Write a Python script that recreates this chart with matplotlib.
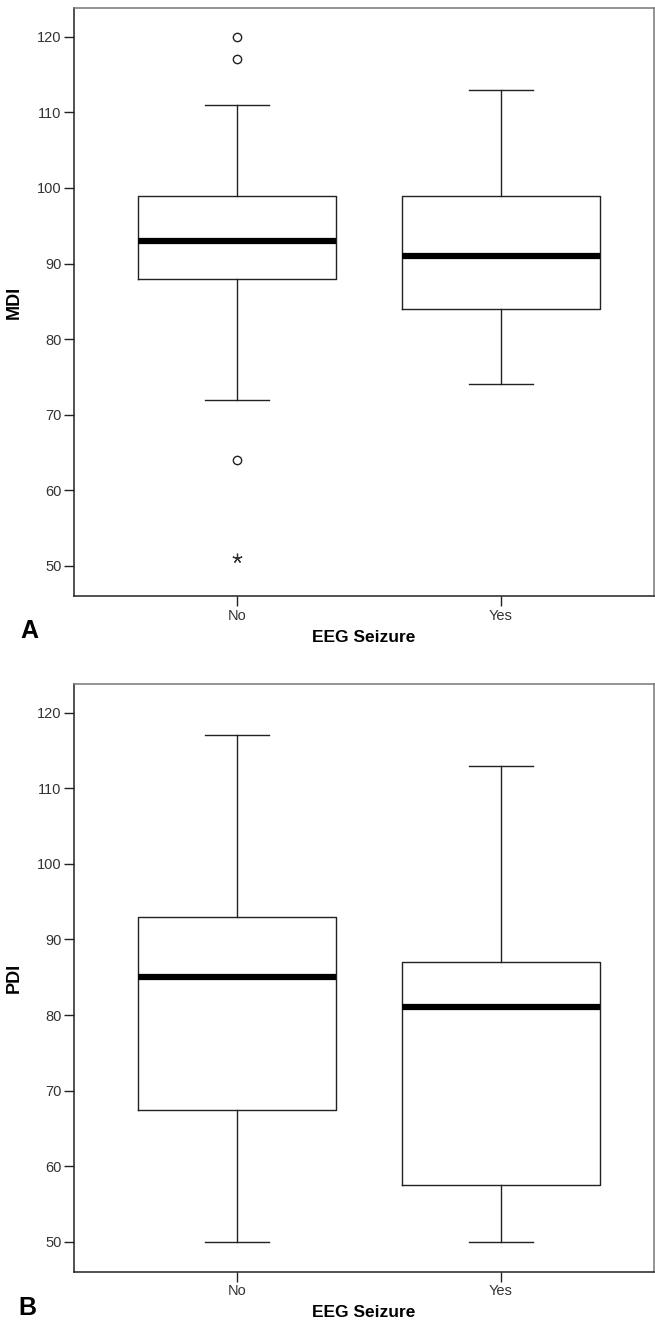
import matplotlib.pyplot as plt

plt.rcParams['font.family'] = ['Liberation Sans', 'DejaVu Sans']

groups = ['No', 'Yes']

# panel A: MDI
mdi_low = [72, 74]
mdi_q1 = [88, 84]
mdi_med = [93, 91]
mdi_q3 = [99, 99]
mdi_high = [111, 113]
mdi_outliers = [[120, 117, 64], []]
mdi_extremes = [[51], []]

# panel B: PDI
pdi_low = [50, 50]
pdi_q1 = [67.5, 57.5]
pdi_med = [85, 81]
pdi_q3 = [93, 87]
pdi_high = [117, 113]
pdi_outliers = [[], []]
pdi_extremes = [[], []]

yticks = [50, 60, 70, 80, 90, 100, 110, 120]


def panel(ax, low, q1, med, q3, high, outl, extr, ylabel):
    stats = []
    for i in range(len(groups)):
        stats.append(dict(whislo=low[i], q1=q1[i], med=med[i], q3=q3[i],
                          whishi=high[i], fliers=outl[i], label=groups[i]))
    pos = list(range(1, len(groups) + 1))
    ax.bxp(stats, positions=pos, widths=0.75, showfliers=True,
           boxprops=dict(color='#222222', linewidth=1.0),
           whiskerprops=dict(color='#222222', linewidth=1.0),
           capprops=dict(color='#222222', linewidth=1.0),
           capwidths=0.245,
           medianprops=dict(color='black', linewidth=4.5, solid_capstyle='butt'),
           flierprops=dict(marker='o', markersize=6, markerfacecolor='white',
                           markeredgecolor='#222222', markeredgewidth=1.0))
    # extreme values drawn as asterisks
    for p, vals in zip(pos, extr):
        for v in vals:
            ax.plot(p, v, marker=(5, 2, 0), markersize=7, color='#333333',
                    markeredgewidth=0.9)
    ax.set_xlim(0.383, 2.58)
    ax.set_ylim(46.0, 123.8)
    ax.set_yticks(yticks)
    ax.set_xticks(pos)
    ax.set_xticklabels(groups)
    ax.tick_params(axis='both', direction='out', length=7, width=1.0,
                   color='#222222', labelsize=10.5, labelcolor='#333333', pad=2)
    for s in ['left', 'bottom']:
        ax.spines[s].set_color('#222222')
        ax.spines[s].set_linewidth(1.1)
    for s in ['top', 'right']:
        ax.spines[s].set_color('#777777')
        ax.spines[s].set_linewidth(1.1)
    ax.set_ylabel(ylabel, fontsize=13, fontweight='bold', labelpad=10)
    ax.set_xlabel('EEG Seizure', fontsize=12.5, fontweight='bold', labelpad=5)
    return ax


fig = plt.figure(figsize=(6.55, 13.29), dpi=100)
axA = fig.add_axes([0.113, 0.5515, 0.8855, 0.4424])
axB = fig.add_axes([0.113, 0.0429, 0.8855, 0.4424])

panel(axA, mdi_low, mdi_q1, mdi_med, mdi_q3, mdi_high, mdi_outliers, mdi_extremes, 'MDI')
panel(axB, pdi_low, pdi_q1, pdi_med, pdi_q3, pdi_high, pdi_outliers, pdi_extremes, 'PDI')

fig.text(29 / 655, 1 - 631 / 1329, 'A', fontsize=18, fontweight='bold', ha='center', va='center')
fig.text(27 / 655, 1 - 1308 / 1329, 'B', fontsize=18, fontweight='bold', ha='center', va='center')

fig.savefig('out.png', dpi=100, facecolor='white')
